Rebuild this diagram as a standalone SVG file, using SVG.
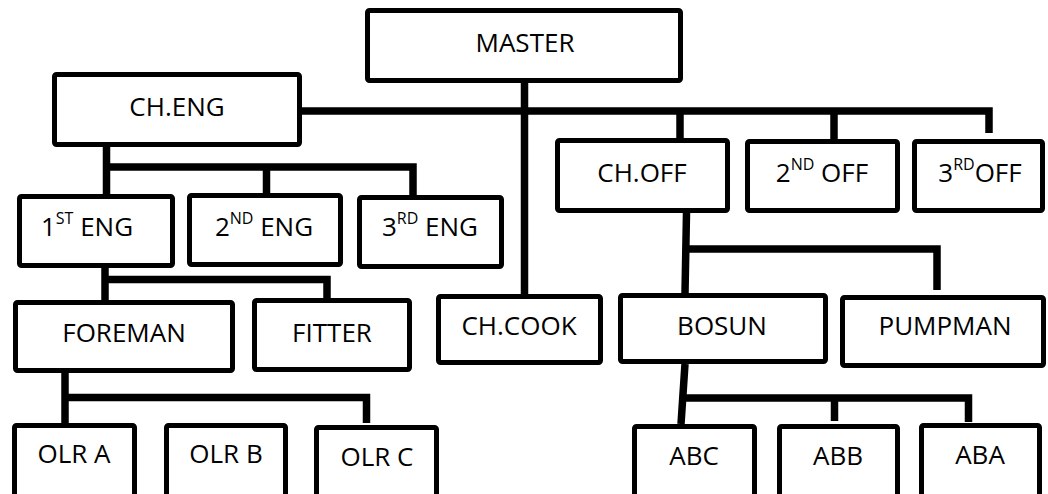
<svg xmlns="http://www.w3.org/2000/svg" width="1048" height="494" viewBox="0 0 1048 494">
<style>
.box{fill:#fff;stroke:#000;stroke-width:5}
.lbl{font-family:"Open Sans","Noto Sans",sans-serif;font-size:26px;fill:#000;text-anchor:middle}
.sup{font-size:16px}
.con{fill:none;stroke:#000;stroke-width:7.5;stroke-linejoin:miter;stroke-linecap:butt}
</style>
<rect width="1048" height="494" fill="#fff"/>
<g id="connectors">
<path class="con" d="M524.5,83 V294"/>
<path class="con" d="M302,111 H989 V133"/>
<path class="con" d="M680,111 V138"/>
<path class="con" d="M834,111 V139"/>
<path class="con" d="M106.5,147 V194 M106.5,167 H413 V195"/>
<path class="con" d="M266.5,167 V193"/>
<path class="con" d="M105,268 V300 M105,279.5 H327 V298"/>
<path class="con" d="M686.5,213 L685,293 M686,249 H937 V290"/>
<path class="con" d="M65,373 V423 M65,397.5 H366.5 V423"/>
<path class="con" d="M685,364 L681,424 M682,398 H968.5 V422"/>
<path class="con" d="M834.5,398 V421"/>
</g>
<g id="master"><rect class="box" x="367.5" y="10.5" width="313" height="70" rx="2"/><text class="lbl" x="525" y="52">MASTER</text></g>
<g id="cheng"><rect class="box" x="54.5" y="74.5" width="245" height="70" rx="2"/><text class="lbl" x="177" y="116">CH.ENG</text></g>
<g id="choff"><rect class="box" x="557.5" y="140.5" width="170" height="70" rx="2"/><text class="lbl" x="642" y="182">CH.OFF</text></g>
<g id="off2"><rect class="box" x="747.5" y="141.5" width="150" height="69" rx="2"/><text class="lbl" x="822" y="182">2<tspan class="sup" dy="-12">ND</tspan><tspan dy="12"> OFF</tspan></text></g>
<g id="off3"><rect class="box" x="914.5" y="141.5" width="128" height="69" rx="2"/><text class="lbl" x="980" y="182">3<tspan class="sup" dy="-12">RD</tspan><tspan dy="12">OFF</tspan></text></g>
<g id="eng1"><rect class="box" x="19.5" y="196.5" width="153" height="69" rx="2"/><text class="lbl" x="87" y="236">1<tspan class="sup" dy="-12">ST</tspan><tspan dy="12"> ENG</tspan></text></g>
<g id="eng2"><rect class="box" x="189.5" y="195.5" width="151" height="69" rx="2"/><text class="lbl" x="264" y="236">2<tspan class="sup" dy="-12">ND</tspan><tspan dy="12"> ENG</tspan></text></g>
<g id="eng3"><rect class="box" x="359.5" y="197.5" width="142" height="69" rx="2"/><text class="lbl" x="430" y="236">3<tspan class="sup" dy="-12">RD</tspan><tspan dy="12"> ENG</tspan></text></g>
<g id="foreman"><rect class="box" x="15.5" y="302.5" width="217" height="68" rx="2"/><text class="lbl" x="124" y="342">FOREMAN</text></g>
<g id="fitter"><rect class="box" x="254.5" y="300.5" width="155" height="69" rx="2"/><text class="lbl" x="332" y="342">FITTER</text></g>
<g id="chcook"><rect class="box" x="438.5" y="296.5" width="162" height="66" rx="2"/><text class="lbl" x="519" y="335">CH.COOK</text></g>
<g id="bosun"><rect class="box" x="620.5" y="295.5" width="205" height="66" rx="2"/><text class="lbl" x="722" y="335">BOSUN</text></g>
<g id="pumpman"><rect class="box" x="842.5" y="297.5" width="201" height="68" rx="2"/><text class="lbl" x="945" y="335">PUMPMAN</text></g>
<g id="olra"><rect class="box" x="14.5" y="425.5" width="120" height="90" rx="2"/><text class="lbl" x="74" y="463">OLR A</text></g>
<g id="olrb"><rect class="box" x="166.5" y="425.5" width="119" height="90" rx="2"/><text class="lbl" x="226" y="463">OLR B</text></g>
<g id="olrc"><rect class="box" x="316.5" y="427.5" width="120" height="90" rx="2"/><text class="lbl" x="377" y="466">OLR C</text></g>
<g id="abc"><rect class="box" x="634.5" y="426.5" width="120" height="90" rx="2"/><text class="lbl" x="694" y="465">ABC</text></g>
<g id="abb"><rect class="box" x="779.5" y="426.5" width="118" height="90" rx="2"/><text class="lbl" x="838" y="465">ABB</text></g>
<g id="aba"><rect class="box" x="921.5" y="425.5" width="118" height="90" rx="2"/><text class="lbl" x="980" y="464">ABA</text></g>
</svg>
